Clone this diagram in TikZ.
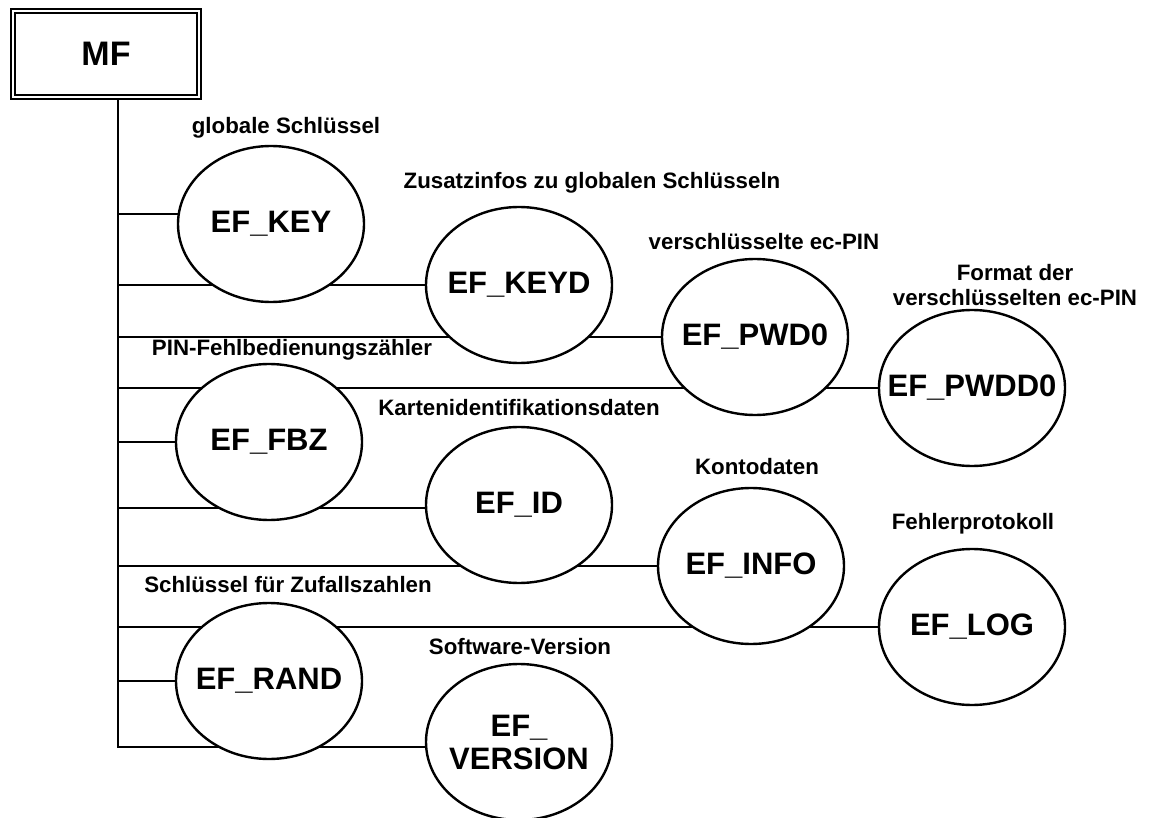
\documentclass[tikz,border=0pt]{standalone}
\usepackage{fontspec}
\setmainfont{Liberation Sans}
\usetikzlibrary{shapes.geometric,backgrounds}

\begin{document}
\begin{tikzpicture}[x=1pt,y=-1pt,line width=2.4pt,branch/.style={draw,line width=2.4pt}]
\useasboundingbox (0,0) rectangle (1149,818);
%\draw[help lines,step=50] (0,0) grid (1149,818);
\node[draw,double,line width=2pt,double distance=1.8pt,minimum width=186pt,minimum height=86pt,inner sep=0pt,font=\fontsize{34}{40}\selectfont\bfseries] (mf) at (106,54) {MF};
\coordinate (trunk) at (118,0);
\foreach \x/\y/\n/\t in {271/224/key/EF\_KEY, 519/285/keyd/EF\_KEYD, 755/337/pwd/EF\_PWD0, 972/388/pwdd/EF\_PWDD0, 269/442/fbz/EF\_FBZ, 519/505/id/EF\_ID, 751/566/info/EF\_INFO, 972/627/log/EF\_LOG, 269/681/rand/EF\_RAND, 519/742/ver/EF\_\\VERSION}
  \node[ellipse,draw,fill=white,minimum width=186pt,minimum height=156pt,inner sep=-20pt,align=center,font=\fontsize{31}{33}\selectfont\bfseries] (\n) at (\x,\y) {\t};
\foreach \x/\y/\n/\t in {286/128/lkey/globale Schlüssel, 592/183/lkeyd/Zusatzinfos zu globalen Schlüsseln, 764/242/lpwd/verschlüsselte ec-PIN, 1015/285/lpwdd/Format der\\verschlüsselten ec-PIN, 292/350/lfbz/PIN-Fehlbedienungszähler, 519/408/lid/Kartenidentifikationsdaten, 757/467/linfo/Kontodaten, 973/524/llog/Fehlerprotokoll, 288/585/lrand/Schlüssel für Zufallszahlen, 520/647/lver/Software-Version}
  \node[inner sep=0pt,align=center,font=\fontsize{22.3}{25}\selectfont\bfseries] (\n) at (\x,\y) {\t};
\begin{scope}[on background layer]
\draw[branch] (mf.south -| trunk) |- (ver.183);
\foreach \n/\a in {key/174.5, keyd/180, pwd/180, pwdd/180, fbz/180, id/182, info/180, log/180, rand/180}
  \draw[branch] (\n.\a) -- (\n.\a -| trunk);
\end{scope}
\end{tikzpicture}
\end{document}
